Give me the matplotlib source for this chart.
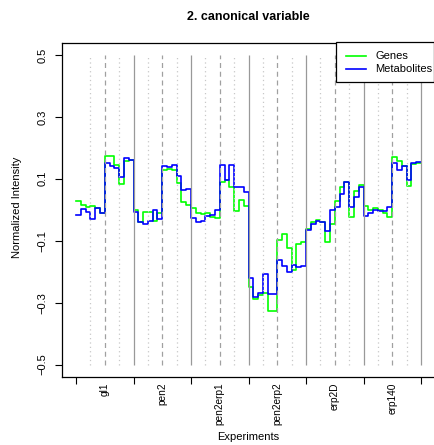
import numpy as np
import matplotlib
matplotlib.use('Agg')
import matplotlib.pyplot as plt
from matplotlib.lines import Line2D
from matplotlib.patches import Rectangle

# experiments, 12 samples each (4 blocks of 3 replicates)
experiments = ['gl1', 'pen2', 'pen2erp1', 'pen2erp2', 'erp2D', 'erp140']

genes = [
    0.028, 0.014, 0.009, 0.013, 0.005, -0.011, 0.174, 0.174, 0.146, 0.083, 0.157, 0.160,      # gl1
    0.000, -0.038, -0.007, -0.007, -0.036, -0.012, 0.129, 0.131, 0.129, 0.086, 0.025, 0.016,  # pen2
    0.005, -0.011, -0.015, -0.011, -0.022, -0.027, 0.091, 0.096, 0.072, -0.004, 0.030, 0.012, # pen2erp1
    -0.249, -0.289, -0.276, -0.268, -0.327, -0.327, -0.097, -0.079, -0.124, -0.195, -0.110, -0.103,  # pen2erp2
    -0.063, -0.038, -0.032, -0.040, -0.105, -0.045, 0.029, 0.075, 0.088, -0.022, 0.059, 0.079,       # erp2D
    0.011, -0.002, 0.005, 0.000, -0.009, -0.022, 0.169, 0.159, 0.142, 0.078, 0.148, 0.151,  # erp140
]

metabolites = [
    -0.018, 0.002, -0.008, -0.030, 0.005, -0.011, 0.151, 0.140, 0.134, 0.105, 0.166, 0.162,
    -0.008, -0.040, -0.046, -0.037, 0.000, -0.030, 0.142, 0.138, 0.145, 0.108, 0.065, 0.066,
    -0.027, -0.041, -0.035, -0.020, -0.016, -0.001, 0.143, 0.095, 0.143, 0.074, 0.074, 0.058,
    -0.220, -0.282, -0.268, -0.207, -0.273, -0.273, -0.163, -0.183, -0.200, -0.177, -0.185, -0.181,
    -0.065, -0.045, -0.035, -0.038, -0.067, 0.000, 0.008, 0.051, 0.090, 0.008, 0.041, 0.075,
    -0.019, -0.009, 0.000, -0.005, -0.003, 0.008, 0.151, 0.129, 0.142, 0.097, 0.151, 0.153,
]

y_ticks = [-0.5, -0.3, -0.1, 0.1, 0.3, 0.5]
y_labels = ['\u22120.5', '\u22120.3', '\u22120.1', '0.1', '0.3', '0.5']

plt.rcParams['font.family'] = ['Liberation Sans', 'DejaVu Sans']

W, H = 434, 445
n = len(genes)
per_group = n // len(experiments)
edges = np.arange(n + 1)

fig = plt.figure(figsize=(W / 100, H / 100), dpi=100)
ax = fig.add_axes([62.2 / W, 68 / H, 372.6 / W, 334.5 / H])
ax.set_xlim(-0.04 * n, n * 1.04)
ax.set_ylim(-0.54, 0.54)

# step lines, one value per sample
ax.step(edges, genes + [genes[-1]], where='post', color='#00ff00', lw=1.2, zorder=2)
ax.step(edges, metabolites + [metabolites[-1]], where='post', color='#0000ff', lw=1.2, zorder=2)

# separators: solid between experiments, dashed at the half, dotted between blocks
for k in range(1, n // 3 + 1):
    x = 3 * k
    if k % 4 == 0:
        ax.vlines(x, -0.5, 0.5, color='#999999', lw=0.9, zorder=3)
    elif k % 2 == 0:
        ax.vlines(x, -0.5, 0.5, color='#a0a0a0', lw=0.9, linestyles=(0, (4, 3)), zorder=3)
    else:
        ax.vlines(x, -0.5, 0.5, color='#c8c8c8', lw=0.9, linestyles=(0, (1, 2.5)), zorder=3)

for s in ax.spines.values():
    s.set_color('black')
    s.set_linewidth(0.9)

ax.set_yticks(y_ticks)
ax.set_yticklabels(y_labels, rotation=90, va='center')
ax.tick_params(axis='y', length=5, width=0.8, labelsize=8, pad=5.5)

ax.set_xticks(np.arange(0, n + 1, per_group))
ax.set_xticklabels([])
ax.set_xticks(np.arange(per_group / 2, n, per_group), minor=True)
ax.set_xticklabels(experiments, minor=True, rotation=90, va='top', ha='center')
ax.tick_params(axis='x', which='major', length=5, width=0.8)
ax.tick_params(axis='x', which='minor', length=0, labelsize=7.3, pad=4)

fig.text(248 / W, 1 - 17 / H, '2. canonical variable', ha='center', va='center',
         fontsize=9, fontweight='bold')
fig.text(248 / W, 1 - 437 / H, 'Experiments', ha='center', va='center', fontsize=8)
fig.text(17 / W, 1 - 207 / H, 'Normalized Intensity', ha='center', va='center',
         rotation=90, fontsize=8)

# legend box in the top right corner
fig.add_artist(Rectangle((336 / W, 1 - 81.7 / H), 97.5 / W, 39.2 / H, transform=fig.transFigure,
                         facecolor='white', edgecolor='black', lw=0.9, zorder=5))
for yy, label, col in [(55.7, 'Genes', '#00ff00'), (69.3, 'Metabolites', '#0000ff')]:
    fig.add_artist(Line2D([346 / W, 366 / W], [1 - yy / H, 1 - yy / H], transform=fig.transFigure,
                          color=col, lw=1.2, zorder=6))
    fig.text(375 / W, 1 - yy / H, label, ha='left', va='center', fontsize=8, zorder=6)

fig.savefig('out.png', dpi=100)
